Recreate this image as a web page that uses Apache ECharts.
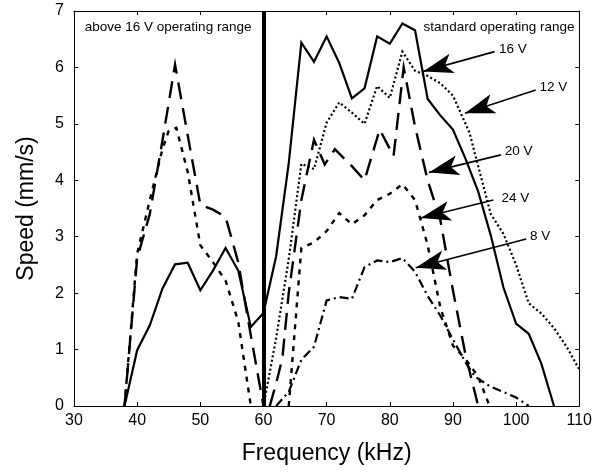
<!DOCTYPE html>
<html><head><meta charset="utf-8">
<script src="https://cdn.jsdelivr.net/npm/echarts@6/dist/echarts.min.js"></script>
<style>html,body{margin:0;padding:0;background:#fff}#chart{width:595px;height:472px}</style>
</head><body><div id="chart"></div>
<script>
// ---- data ----
const xMin = 30, xMax = 110, xStep = 10;
const yMin = 0, yMax = 7, yStep = 1;

const freq16 = [38,40,42,44,46,48,50,52,54,56,58,60,62,64,66,68,70,72,74,76,78,80,82,84,86,88,90,92,94,96,98,100,102,104,106];
const speed16 = [0,0.99,1.43,2.08,2.51,2.54,2.05,2.4,2.8,2.4,1.4,1.65,2.65,4.3,6.44,6.1,6.55,6.08,5.45,5.63,6.55,6.42,6.78,6.66,5.44,5.15,4.9,4.38,3.8,3.02,2.1,1.46,1.28,0.75,0];

const freq12 = [60,62,64,66,68,70,72,74,76,78,80,82,84,86,88,90,92.6,94,96,98,100,102,104,106,108,110];
const speed12 = [0,1.2,2.6,4.29,4.2,5.02,5.38,5.2,5.0,5.67,5.46,6.28,5.94,5.85,5.72,5.5,4.85,4.25,3.4,3.05,2.5,1.82,1.64,1.38,1.05,0.65];

const freq20 = [38,40,42,44,46,48,50,52,54,56,58,60,60.5,61,62,63,64,66,68,69.7,71.3,74,76,78.4,80.6,82.2,84,86,88,90,92,94];
const speed20 = [0,2.62,3.4,4.7,6.05,4.8,3.57,3.48,3.35,2.55,1.25,0,null,0,0.4,0.85,2.0,3.65,4.72,4.28,4.55,4.25,4.0,4.9,4.43,6.0,4.95,4.0,3.3,2.05,0.9,0];

const freq24 = [38,40,42,44,45,46.2,48,50,52,54,56,58,61,64,66,68,70,72,74,76,78,80,82,84,86,88,90,92,94,95.8];
const speed24 = [0,2.7,3.65,4.55,4.88,4.93,4.15,2.85,2.55,2.22,1.5,0,null,0,2.8,2.9,3.1,3.42,3.22,3.38,3.65,3.76,3.93,3.65,2.85,1.75,1.07,0.83,0.52,0];

const freq8 = [62,64,66,68,70,72,74,76,78,80,82,84,86,88,90,92,93.5,96,98,100,102];
const speed8 = [0,0.25,0.82,1.05,1.87,1.93,1.9,2.46,2.58,2.55,2.62,2.38,1.95,1.6,1.18,0.77,0.52,0.34,0.25,0.15,0];

const boundaryFreq = 60;

const arrowNames = ['16 V','12 V','20 V','24 V','8 V'];
const arrowFrom = [[96.6,6.28],[103.1,5.60],[97.6,4.45],[96.4,3.65],[101.6,2.96]];
const arrowTo   = [[85.3,5.93],[91.9,5.19],[86.2,4.14],[84.9,3.33],[84.1,2.45]];
const arrowLabelAt = [[97.3,6.32],[103.7,5.65],[98.2,4.51],[97.7,3.68],[102.2,3.0]];

const regionTitles = ['above 16 V operating range','standard operating range'];
const regionTitleAt = [[44.9,6.72],[97.3,6.72]];

const xName = 'Frequency (kHz)';
const yName = 'Speed (mm/s)';

// ---- build ----
const FONT = 'Arial, "Liberation Sans", sans-serif';
function pairs(f, s){ return f.map((x,i)=> [x, s[i]==null ? '-' : s[i]]); }

function lineSeries(name, f, s, dash, width){
  return {
    name, type:'line', data: pairs(f,s), showSymbol:false, symbol:'none',
    connectNulls:false, silent:true, z:3,
    lineStyle:{color:'#000', width: width, type: dash, cap:'butt', join:'miter'}
  };
}

const arrowLines = arrowFrom.map((a,i)=>[
  {coord:a, symbol:'none'},
  {coord:arrowTo[i], symbol:'arrow', symbolSize:[15,30]}
]);

const labelPoints = arrowNames.map((n,i)=>({name:n, coord:arrowLabelAt[i],
  label:{show:true, position:'right', distance:0, formatter:'{b}', color:'#000', fontSize:13.5, fontFamily:FONT}}));
const titlePoints = regionTitles.map((n,i)=>({name:n, coord:regionTitleAt[i],
  label:{show:true, position:'inside', formatter:'{b}', color:'#000', fontSize:13.5, fontFamily:FONT}}));

const axisCommon = {
  type:'value', min:xMin, max:xMax, interval:xStep,
  axisLine:{show:true, onZero:false, lineStyle:{color:'#000', width:1}},
  axisTick:{show:true, inside:true, length:4, lineStyle:{color:'#000', width:1}},
  splitLine:{show:false}
};

const option = {
  animation:false,
  backgroundColor:'#fff',
  grid:{left:74, right:9, top:11, bottom:66, containLabel:false},
  xAxis:[
    Object.assign({}, axisCommon, {position:'bottom',
      axisLabel:{show:true, color:'#000', fontSize:16, fontFamily:FONT, margin:7},
      name:xName, nameLocation:'middle', nameGap:36,
      nameTextStyle:{color:'#000', fontSize:23, fontFamily:FONT}}),
    Object.assign({}, axisCommon, {position:'top', axisLabel:{show:false}})
  ],
  yAxis:[
    Object.assign({}, axisCommon, {min:yMin, max:yMax, interval:yStep, position:'left',
      axisLabel:{show:true, color:'#000', fontSize:16, fontFamily:FONT, margin:10},
      name:yName, nameLocation:'middle', nameGap:36, nameRotate:90,
      nameTextStyle:{color:'#000', fontSize:23, fontFamily:FONT}}),
    Object.assign({}, axisCommon, {min:yMin, max:yMax, interval:yStep, position:'right', axisLabel:{show:false}})
  ],
  series:[
    lineSeries('16 V', freq16, speed16, 'solid', 2.2),
    lineSeries('12 V', freq12, speed12, [2,2.5], 2.2),
    lineSeries('20 V', freq20, speed20, [17,9], 2.4),
    lineSeries('24 V', freq24, speed24, [5,6], 2.4),
    lineSeries('8 V', freq8, speed8, [9,4,2,4], 2.2),
    {
      name:'annotations', type:'line', data:[], silent:true, z:5,
      markLine:{
        silent:true, animation:false, symbol:['none','none'],
        label:{show:false},
        lineStyle:{color:'#000', width:1.6, type:'solid'},
        emphasis:{disabled:true},
        data: arrowLines.concat([[{coord:[boundaryFreq,yMin], symbol:'none'},{coord:[boundaryFreq,yMax], symbol:'none', lineStyle:{width:4, color:'#000'}}]])
      },
      markPoint:{
        silent:true, animation:false, symbol:'circle', symbolSize:0,
        itemStyle:{color:'transparent'},
        data: labelPoints.concat(titlePoints)
      }
    }
  ]
};

const chart = echarts.init(document.getElementById('chart'), null, {renderer:'canvas'});
chart.setOption(option);
</script>
</body></html>
